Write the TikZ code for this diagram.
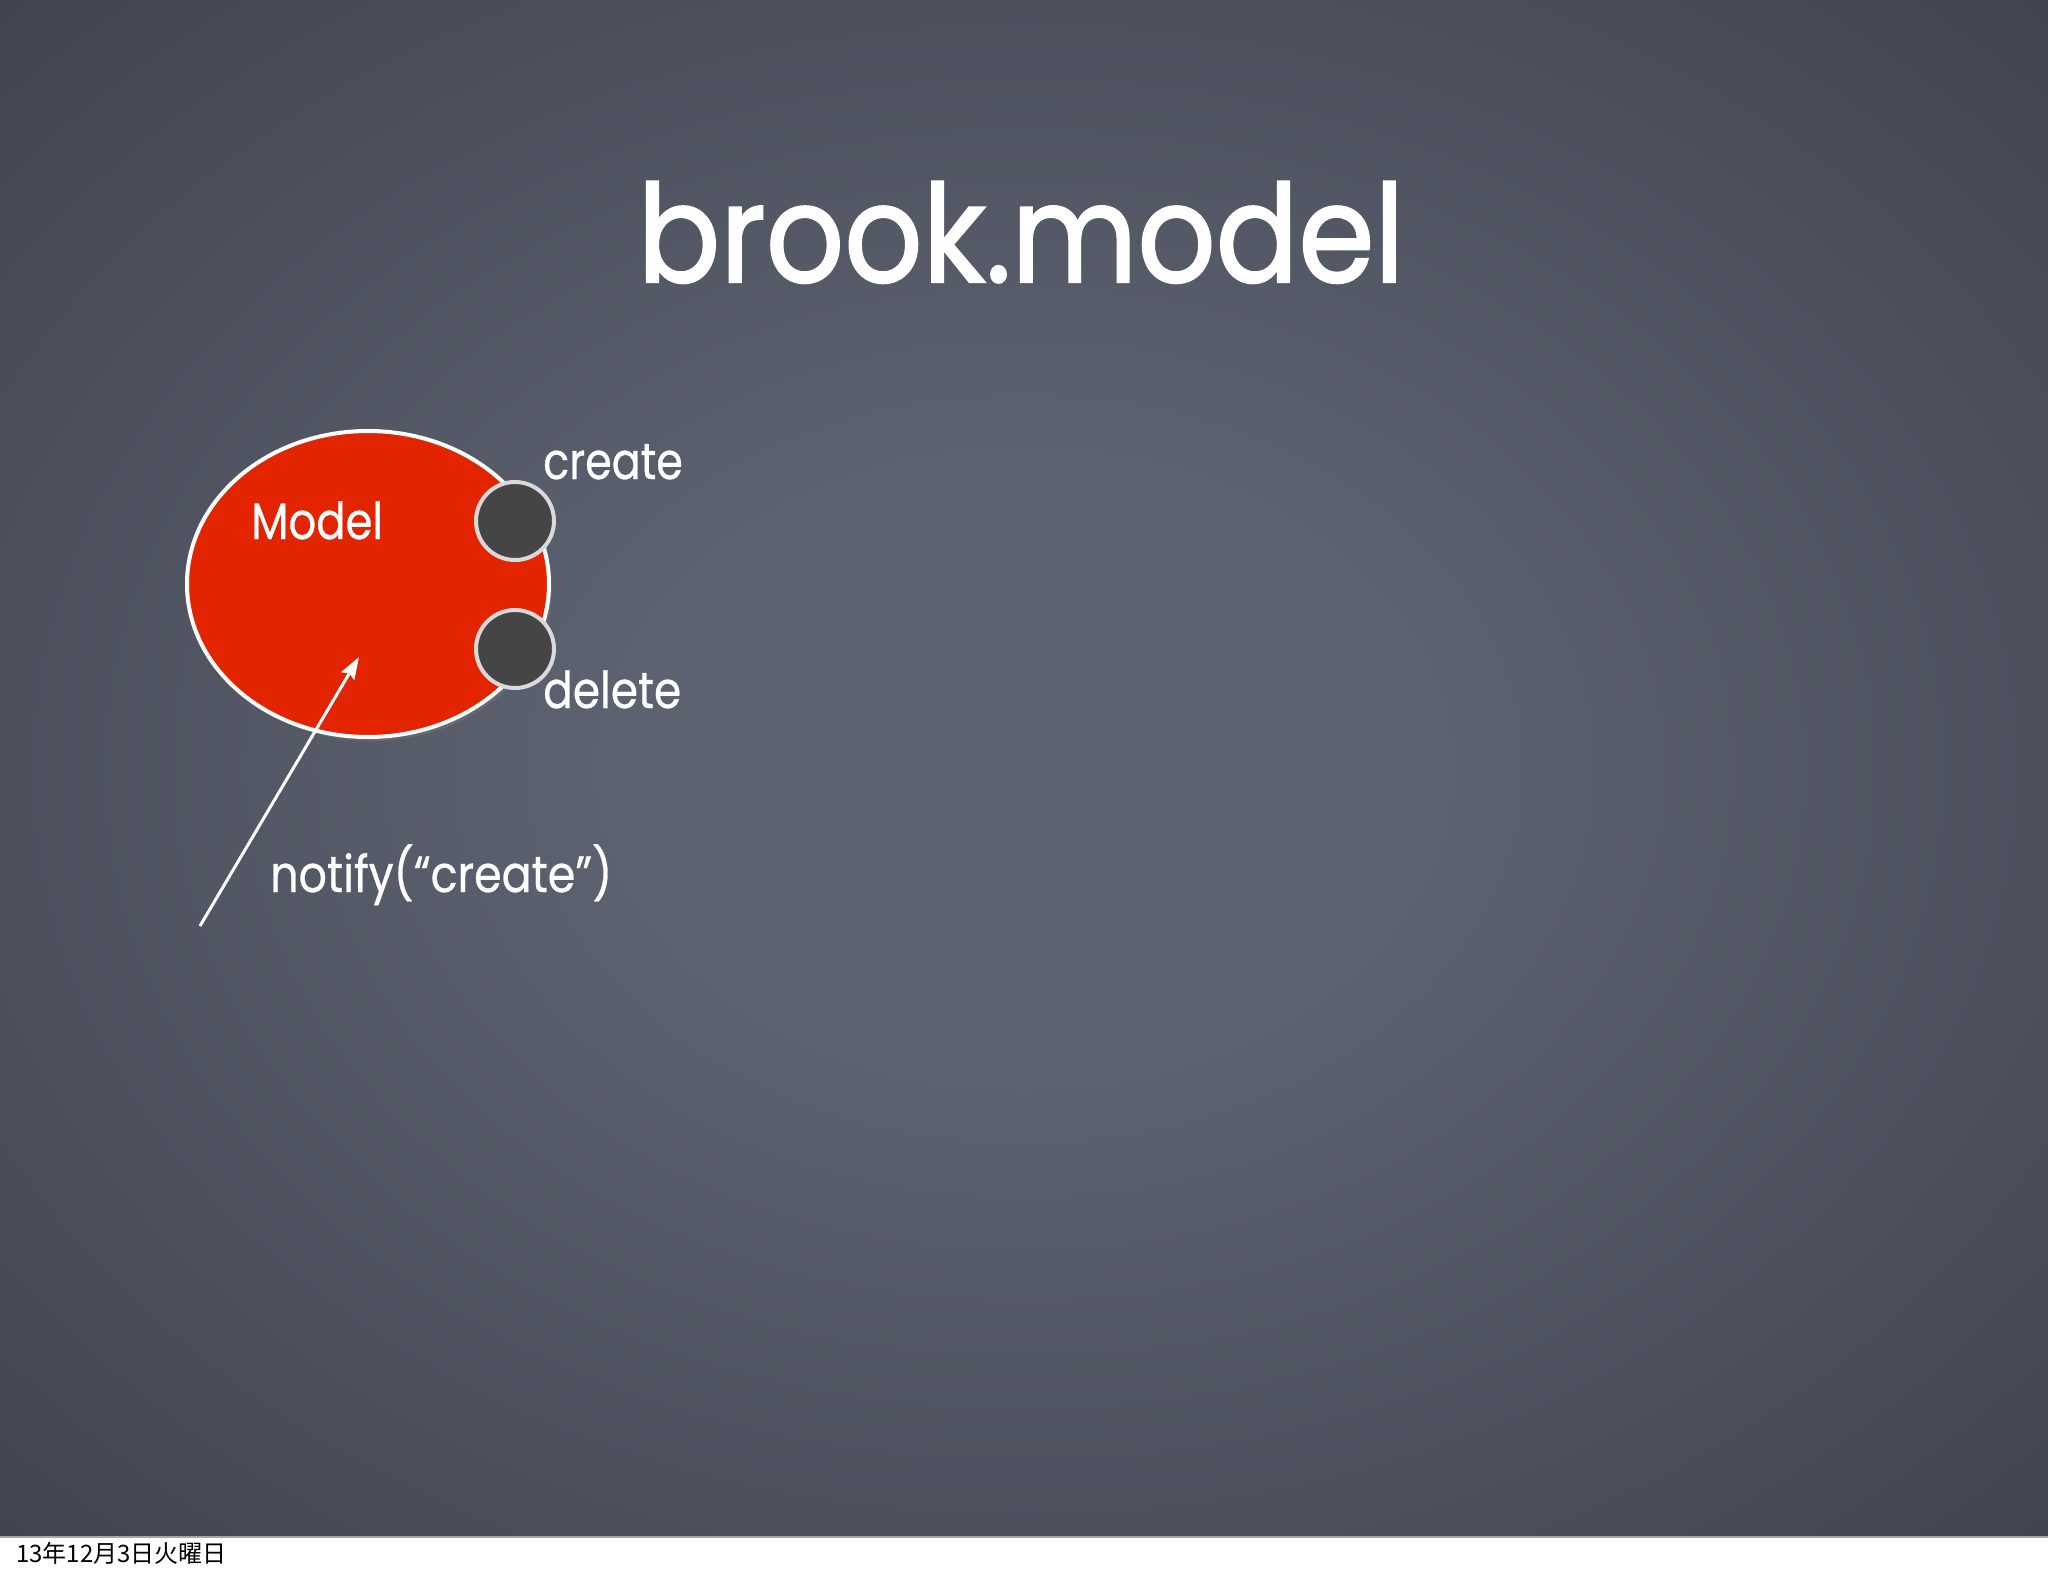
\documentclass[tikz,border=0pt]{standalone}
\usepackage{fontspec}
\newfontfamily\chalk[FakeBold=0.6]{Poppins}
\newfontfamily\chalkt[FakeBold=1.6]{Poppins}
\newfontfamily\cjk{Noto Sans CJK JP}
\usetikzlibrary{shapes.geometric,arrows.meta,shadows}
\definecolor{bgin}{HTML}{5D6270}
\definecolor{bgout}{HTML}{3C3F4B}
\definecolor{modelred}{HTML}{E22400}
\definecolor{port}{HTML}{454545}
\definecolor{portrim}{HTML}{DADADA}
\pgfdeclareradialshading{board}{\pgfpoint{0bp}{0bp}}{color(0bp)=(bgin); color(10bp)=(bgin); color(40bp)=(bgout); color(50bp)=(bgout)}
\newcommand\narrow[2]{\scalebox{#1}[1]{#2}}
\begin{document}
\begin{tikzpicture}[x=1pt,y=-1pt,
  lbl/.style={text=white, inner sep=0pt, font=\chalk\fontsize{51}{51}\selectfont},
  portnode/.style={circle, fill=port, draw=portrim, line width=4pt, minimum size=78pt, inner sep=0pt},
]
\useasboundingbox (0,0) rectangle (2048,1576);
% board
\shade[shading=board] (0,0) rectangle (2048,1537);
\fill[white] (0,1537) rectangle (2048,1576);
\draw[gray!70, line width=2pt] (0,1537) -- (2048,1537);
% title
\node[text=white, inner sep=0pt, anchor=base, font=\chalkt\fontsize{136}{136}\selectfont] (title) at (1021,282) {\narrow{0.9}{brook.model}};
% model
\node[ellipse, fill=modelred, draw=white, line width=4pt, minimum width=362pt, minimum height=306pt, inner sep=0pt,
      drop shadow={opacity=0.35, shadow xshift=3pt, shadow yshift=-4pt}] (model) at (368,584) {};
\node[lbl, anchor=base west] (modellbl) at (251,539) {\narrow{0.85}{Model}};
\node[portnode] (pcreate) at (515,521) {};
\node[portnode] (pdelete) at (515,649) {};
\node[lbl, anchor=base west] (lcreate) at (543,479) {\narrow{0.84}{create}};
\node[lbl, anchor=base west] (ldelete) at (543,708) {\narrow{0.86}{delete}};
% notify arrow
\coordinate (src) at (200,926);
\coordinate (tip) at (359,657);
\draw[white, line width=3pt, -{Stealth[length=22pt,width=15pt,inset=3pt]}] (src) -- (tip);
\node[lbl, anchor=base west] (notify) at (270,892) {\narrow{0.87}{notify(“create”)}};
% date
\node[inner sep=0pt, anchor=base west, font=\cjk\fontsize{24}{24}\selectfont] (date) at (16,1562) {13年12月3日火曜日};
\end{tikzpicture}
\end{document}
